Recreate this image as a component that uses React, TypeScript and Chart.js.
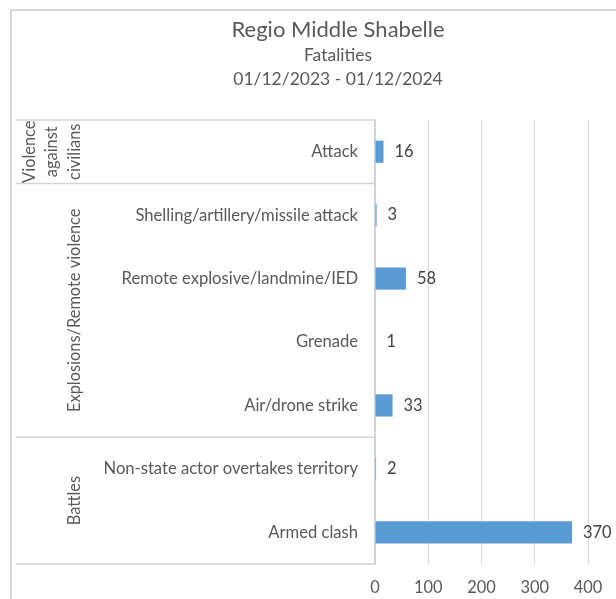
import React, { useEffect, useRef } from "react";
import { Chart, registerables } from "chart.js";

Chart.register(...registerables);

const titleLines = ["Regio Middle Shabelle", "Fatalities", "01/12/2023 - 01/12/2024"];
const categories = [
  "Attack",
  "Shelling/artillery/missile attack",
  "Remote explosive/landmine/IED",
  "Grenade",
  "Air/drone strike",
  "Non-state actor overtakes territory",
  "Armed clash",
];
const fatalities = [16, 3, 58, 1, 33, 2, 370];
const groupLabels = [["Violence", "against", "civilians"], ["Explosions/Remote violence"], ["Battles"]];
const groupSizes = [1, 4, 2];
const xTicks = [0, 100, 200, 300, 400];

const FONT = "Lato, 'Open Sans', sans-serif";
const W = 652;
const H = 600;

export default function App() {
  const ref = useRef<HTMLCanvasElement | null>(null);

  useEffect(() => {
    const canvas = ref.current;
    if (!canvas) return;

    const overlay = {
      id: "overlay",
      afterDraw(chart: any) {
        const ctx = chart.ctx;
        const area = chart.chartArea;
        const yScale = chart.scales.y;
        ctx.save();
        // titles
        ctx.fillStyle = "#595959";
        ctx.textAlign = "center";
        ctx.textBaseline = "middle";
        const cx = W / 2;
        ctx.font = `22px ${FONT}`;
        ctx.fillText(titleLines[0], cx, 19);
        ctx.font = `17.5px ${FONT}`;
        ctx.fillText(titleLines[1], cx, 44);
        ctx.font = `17.5px ${FONT}`;
        ctx.fillText(titleLines[2], cx, 68);

        // group separators
        const half = (yScale.getPixelForValue(1) - yScale.getPixelForValue(0)) / 2;
        const bounds: number[] = [area.top];
        let idx = 0;
        groupSizes.forEach((s) => {
          idx += s;
          bounds.push(yScale.getPixelForValue(idx - 1) + half);
        });
        ctx.strokeStyle = "#d4d4d4";
        ctx.lineWidth = 1.5;
        bounds.forEach((b, i) => {
          const yy = i === 0 ? area.top : i === bounds.length - 1 ? area.bottom : b;
          ctx.beginPath();
          ctx.moveTo(4, yy);
          ctx.lineTo(area.left, yy);
          ctx.stroke();
        });

        // group labels
        ctx.fillStyle = "#595959";
        ctx.font = `16.4px ${FONT}`;
        ctx.textAlign = "center";
        ctx.textBaseline = "middle";
        for (let g = 0; g < groupLabels.length; g++) {
          const top = g === 0 ? area.top : bounds[g];
          const bot = g === groupLabels.length - 1 ? area.bottom : bounds[g + 1];
          const my = (top + bot) / 2;
          const lines = groupLabels[g];
          const lh = 22.5;
          const centerX = lines.length > 1 ? 40 : 63;
          ctx.save();
          ctx.translate(centerX, my);
          ctx.rotate(-Math.PI / 2);
          lines.forEach((t, i) => {
            ctx.fillText(t, 0, (i - (lines.length - 1) / 2) * lh);
          });
          ctx.restore();
        }

        // data labels
        const meta = chart.getDatasetMeta(0);
        ctx.fillStyle = "#404040";
        ctx.font = `16.4px ${FONT}`;
        ctx.textAlign = "left";
        ctx.textBaseline = "middle";
        meta.data.forEach((el: any, i: number) => {
          ctx.fillText(String(fatalities[i]), el.x + 11, el.y);
        });
        ctx.restore();
      },
    };

    const chart = new Chart(canvas, {
      type: "bar",
      data: {
        labels: categories,
        datasets: [
          {
            label: "Fatalities",
            data: fatalities,
            backgroundColor: "#5B9BD5",
            borderWidth: 0,
            categoryPercentage: 1,
            barPercentage: 0.35,
          },
        ],
      },
      options: {
        indexAxis: "y",
        animation: false,
        responsive: false,
        layout: { padding: { top: 109, right: 76, left: 0, bottom: 0 } },
        plugins: {
          legend: { display: false },
          title: { display: false },
          tooltip: { enabled: false },
        },
        scales: {
          x: {
            min: 0,
            max: 400,
            afterBuildTicks: (scale: any) => {
              scale.ticks = xTicks.map((v) => ({ value: v }));
            },
            afterFit: (scale: any) => {
              scale.height = 47;
            },
            grid: { color: "#d9d9d9", lineWidth: 1, drawTicks: false },
            border: { display: false },
            ticks: {
              color: "#595959",
              font: { family: FONT, size: 16.4 },
              padding: 14,
            },
          },
          y: {
            afterFit: (scale: any) => {
              scale.width = 363;
            },
            grid: { display: false, drawTicks: false },
            border: { display: true, color: "#d0d0d0", width: 1.5 },
            ticks: {
              color: "#595959",
              font: { family: FONT, size: 16.6 },
              padding: 17,
              autoSkip: false,
              crossAlign: "near",
            },
          },
        },
      },
      plugins: [overlay],
    } as any);

    return () => chart.destroy();
  }, []);

  return (
    <div
      style={{
        position: "fixed",
        left: 0,
        top: 0,
        width: 616,
        height: 599,
        overflow: "hidden",
        background: "#fff",
      }}
    >
      <div
        style={{
          position: "absolute",
          left: 10,
          top: 9,
          width: W,
          height: H,
          border: "2px solid #d9d9d9",
          background: "#fff",
        }}
      >
        <canvas ref={ref} width={W} height={H} style={{ display: "block", width: W, height: H }} />
      </div>
    </div>
  );
}
